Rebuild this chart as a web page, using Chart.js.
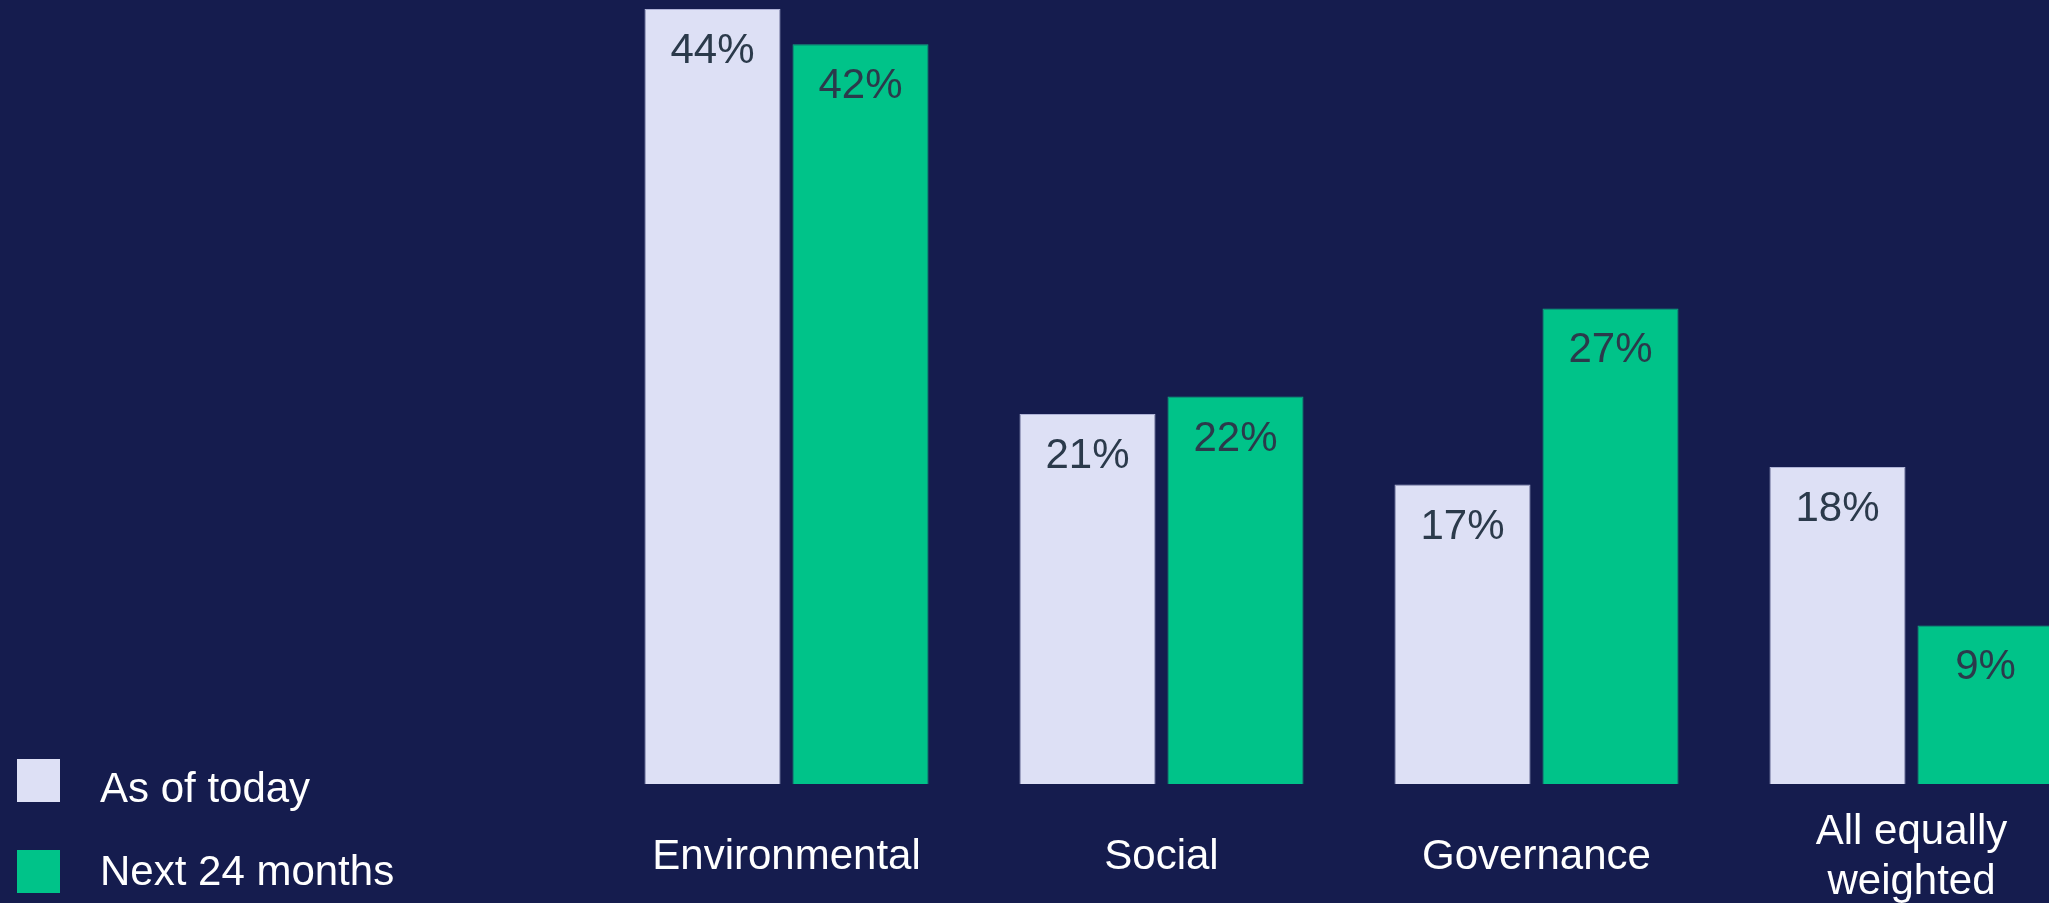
<!DOCTYPE html>
<html>
<head>
<meta charset="utf-8">
<script src="https://cdn.jsdelivr.net/npm/chart.js@4.4.1/dist/chart.umd.min.js"></script>
<style>
  html, body { margin: 0; padding: 0; background: #151c4e; overflow: hidden; width: 2049px; height: 903px; }
  #wrap { position: absolute; left: 0; top: 0; width: 2200px; height: 903px; }
</style>
</head>
<body>
<div id="wrap"><canvas id="c" width="2200" height="903"></canvas></div>
<script>
const categories = ['Environmental', 'Social', 'Governance', ['All equally', 'weighted']];
const seriesNames = ['As of today', 'Next 24 months'];
const asOfToday = [44, 21, 17, 18];
const next24Months = [42, 22, 27, 9];
const valueSuffix = '%';

const FONT = '"Liberation Sans", Arial, sans-serif';
const LIGHT = '#dde0f5';
const GREEN = '#00c389';
const LABEL_DARK = '#2b3a4b';

const barLabels = {
  id: 'barLabels',
  afterDatasetsDraw(chart) {
    const ctx = chart.ctx;
    ctx.save();
    ctx.font = '42px ' + FONT;
    ctx.fillStyle = LABEL_DARK;
    ctx.textAlign = 'center';
    ctx.textBaseline = 'alphabetic';
    chart.data.datasets.forEach((ds, i) => {
      const meta = chart.getDatasetMeta(i);
      meta.data.forEach((bar, j) => {
        ctx.fillText(ds.data[j] + valueSuffix, bar.x, bar.y + 54);
      });
    });
    ctx.restore();
  }
};

const sideLegend = {
  id: 'sideLegend',
  afterDraw(chart) {
    const ctx = chart.ctx;
    ctx.save();
    ctx.font = '42px ' + FONT;
    ctx.textAlign = 'left';
    ctx.textBaseline = 'alphabetic';
    const tops = [759, 850];
    const baselines = [802, 885];
    chart.data.datasets.forEach((ds, i) => {
      ctx.fillStyle = ds.backgroundColor;
      ctx.fillRect(17, tops[i], 43, 43);
      ctx.fillStyle = '#ffffff';
      ctx.fillText(ds.label, 100, baselines[i]);
    });
    ctx.restore();
  }
};

new Chart(document.getElementById('c'), {
  type: 'bar',
  data: {
    labels: categories,
    datasets: [
      { label: seriesNames[0], data: asOfToday, backgroundColor: LIGHT, borderColor: '#aeb2d6', borderWidth: 1,
        categoryPercentage: 0.7893, barPercentage: 0.919 },
      { label: seriesNames[1], data: next24Months, backgroundColor: GREEN, borderColor: '#13a983', borderWidth: 1,
        categoryPercentage: 0.7893, barPercentage: 0.919 }
    ]
  },
  options: {
    responsive: false,
    animation: false,
    layout: { padding: { left: 599, right: 101, top: 9, bottom: 0 } },
    plugins: { legend: { display: false }, tooltip: { enabled: false } },
    scales: {
      y: { display: false, min: 0, max: 44 },
      x: {
        grid: { display: false, drawTicks: false },
        border: { display: false },
        ticks: {
          color: '#ffffff',
          font: { family: FONT, size: 42, lineHeight: 50 / 42 },
          padding: 48,
          crossAlign: 'center',
          maxRotation: 0,
          autoSkip: false
        },
        afterFit(scale) { scale.height = 119; }
      }
    }
  },
  plugins: [barLabels, sideLegend]
});
</script>
</body>
</html>
